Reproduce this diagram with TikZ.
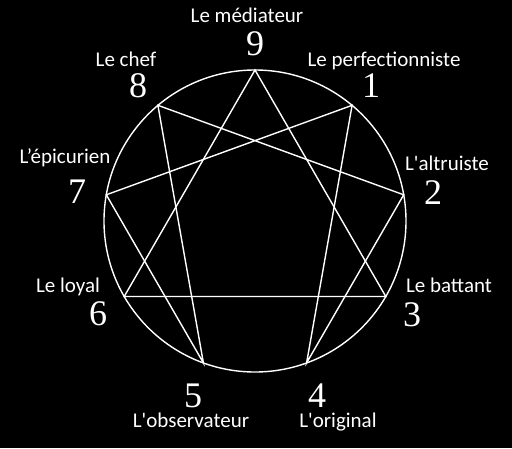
\documentclass[tikz,border=0pt]{standalone}
\usepackage{fontspec}
\usepackage{tikz}
\usepackage{xcolor}
\newfontfamily\labelfont{Carlito}
\newfontfamily\digitfont{Liberation Serif}

\begin{document}
\begin{tikzpicture}[x=1pt,y=-1pt,
  edge/.style={white,line width=1.4pt},
  digit/.style={white,anchor=base,inner sep=0pt,font=\digitfont\fontsize{36}{40}\selectfont},
  typename/.style={white,anchor=base,inner sep=0pt,font=\labelfont\fontsize{21}{25}\selectfont}]
\fill[black] (0,0) rectangle (512,448);
\useasboundingbox (0,0) rectangle (512,448);
\coordinate (c) at (255,221);
\coordinate (9) at (255,70);
\coordinate (1) at (352.1,105.3);
\coordinate (2) at (403.7,194.8);
\coordinate (3) at (385.8,296.5);
\coordinate (4) at (306.6,362.9);
\coordinate (5) at (203.4,362.9);
\coordinate (6) at (124.2,296.5);
\coordinate (7) at (106.3,194.8);
\coordinate (8) at (157.9,105.3);
\draw [edge] (c) circle [radius=151pt];
\draw [edge] (9)--(3)--(6)--cycle;
\draw [edge] (1)--(4)--(2)--(8)--(5)--(7)--cycle;
\node [digit] (d9) at (255,55) {9};
\node [typename] (t9) at (247,22) {Le médiateur};
\node [digit] (d1) at (371,97) {1};
\node [typename] (t1) at (384,66) {Le perfectionniste};
\node [digit] (d2) at (433,204) {2};
\node [typename] (t2) at (447,170) {L'altruiste};
\node [digit] (d3) at (412,326) {3};
\node [typename] (t3) at (449,292) {Le battant};
\node [digit] (d4) at (317,407) {4};
\node [typename] (t4) at (338,427) {L'original};
\node [digit] (d5) at (193,407) {5};
\node [typename] (t5) at (191,427) {L'observateur};
\node [digit] (d6) at (98,325) {6};
\node [typename] (t6) at (68,292) {Le loyal};
\node [digit] (d7) at (77,203) {7};
\node [typename] (t7) at (65,163) {L’épicurien};
\node [digit] (d8) at (138,97) {8};
\node [typename] (t8) at (126,66) {Le chef};
\end{tikzpicture}
\end{document}
